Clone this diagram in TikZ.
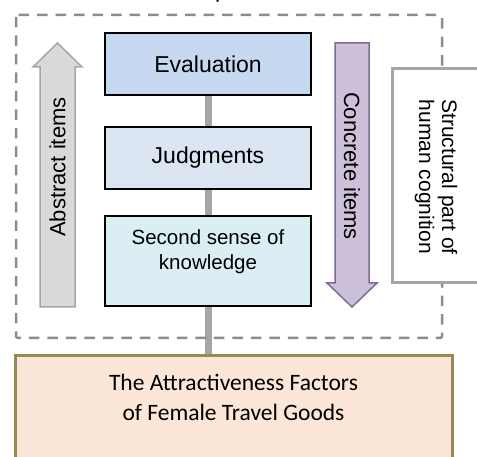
\documentclass[tikz,border=0pt]{standalone}
\usepackage{fontspec}
\setmainfont{Liberation Sans}
\newfontfamily\calibri{Carlito}
\usetikzlibrary{backgrounds}
\definecolor{evalc}{HTML}{C6D9F1}
\definecolor{judgc}{HTML}{DCE6F2}
\definecolor{secc}{HTML}{DBEEF4}
\definecolor{absfill}{HTML}{D9D9D9}
\definecolor{graybd}{HTML}{A6A6A6}
\definecolor{confill}{HTML}{CCC0DA}
\definecolor{conbd}{HTML}{7F6A9A}
\definecolor{dashc}{HTML}{8C8C8C}
\definecolor{peach}{HTML}{FBE6D8}
\definecolor{olive}{HTML}{948A54}
\begin{document}
\begin{tikzpicture}[x=1pt,y=-1pt,
  box/.style={draw=black,line width=1.4pt,minimum width=206pt,inner sep=0pt,
              font=\fontsize{23}{26}\selectfont},
  vlbl/.style={inner sep=0pt,font=\fontsize{22}{23}\selectfont,align=center},
  conn/.style={draw=graybd,line width=7pt},
  dashbox/.style={draw=dashc,line width=2.5pt,dash pattern=on 10.5pt off 8pt,rounded corners=2pt},
  absarrow/.style={draw=graybd,fill=absfill,line width=1.5pt,line join=miter},
  conarrow/.style={draw=conbd,fill=confill,line width=1.5pt,line join=miter}]
\useasboundingbox (0,0) rectangle (477,457);
% fragment of a title above the picture
\node[anchor=base west,inner sep=0pt,font=\fontsize{23}{26}\selectfont] (ptop) at (215,-2.5) {p};
% dashed frame
\draw[dashbox] (16,15) rectangle (442,338);
% arrows
\draw[absarrow] (40,307) -- (40,67) -- (33,67) -- (57.5,43) -- (82,67) -- (75,67) -- (75,307) -- cycle;
\node[vlbl,rotate=90] (abs) at (57.5,167) {Abstract items};
\draw[conarrow] (335,43) -- (369,43) -- (369,283) -- (377,283) -- (352,307) -- (327,283) -- (335,283) -- cycle;
\node[vlbl,rotate=-90] (con) at (352,166) {Concrete items};
% structural box
\node[draw=graybd,fill=white,line width=3pt,minimum width=100pt,minimum height=214pt,inner sep=0pt] (struct) at (442,176) {};
\node[vlbl,rotate=-90,font=\fontsize{21}{23}\selectfont] (structtxt) at (436,177) {Structural part of\\human cognition};
% central boxes
\node[box,fill=evalc,minimum height=62pt] (eval) at (208,64) {Evaluation};
\node[box,fill=judgc,minimum height=62pt] (judg) at (208,158) {Judgments};
\node[box,fill=secc,minimum height=90pt] (sec) at (208,261) {};
\node[inner sep=0pt,align=center,font=\fontsize{20.5}{25}\selectfont] (sectxt) at (208,252) {Second sense of\\knowledge};
\node[draw=olive,fill=peach,line width=3pt,minimum width=437pt,minimum height=120pt,inner sep=0pt] (attr) at (233.5,415) {};
\node[inner sep=0pt,align=center,font=\calibri\fontsize{23.5}{30}\selectfont] (attrtxt) at (233.5,397) {The Attractiveness Factors\\of Female Travel Goods};
\begin{pgfonlayer}{background}
\draw[conn] (eval.south) -- (eval.south |- attr.north);
\end{pgfonlayer}
\end{tikzpicture}
\end{document}
